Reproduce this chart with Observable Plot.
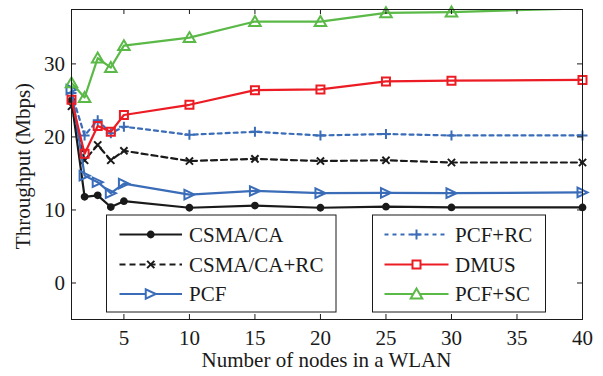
<!DOCTYPE html>
<html>
<head>
<meta charset="utf-8">
<script src="https://cdn.jsdelivr.net/npm/d3@7"></script>
<script src="https://cdn.jsdelivr.net/npm/@observablehq/plot@0.6"></script>
<style>
  html, body { margin: 0; padding: 0; background: #fff; }
  #chart svg { display: block; }
</style>
</head>
<body>
<div id="chart"></div>
<script>
// ---- data ----
const nodes = [1, 2, 3, 4, 5, 10, 15, 20, 25, 30, 40];
const csma     = [25.0, 11.8, 12.0, 10.4, 11.2, 10.3, 10.6, 10.3, 10.45, 10.35, 10.35];
const csmaRc   = [24.2, 16.8, 18.9, 16.8, 18.1, 16.7, 17.0, 16.7, 16.8, 16.5, 16.5];
const pcf      = [26.5, 14.7, 13.8, 12.3, 13.6, 12.1, 12.6, 12.3, 12.35, 12.3, 12.4];
const pcfRc    = [26.0, 20.2, 22.3, 20.5, 21.4, 20.3, 20.7, 20.2, 20.4, 20.2, 20.2];
const dmus     = [25.1, 17.7, 21.5, 20.7, 23.0, 24.4, 26.4, 26.5, 27.6, 27.7, 27.8];
const pcfSc    = [27.4, 25.4, 30.8, 29.5, 32.5, 33.6, 35.8, 35.8, 37.0, 37.1, 37.6];
const seriesNames = ["CSMA/CA", "CSMA/CA+RC", "PCF", "PCF+RC", "DMUS", "PCF+SC"];
const xTicks = [5, 10, 15, 20, 25, 30, 35, 40];
const yTicks = [0, 10, 20, 30];
const xDomain = [1, 40];
const yDomain = [-5, 37.45];
const xLabel = "Number of nodes in a WLAN";
const yLabel = "Throughput (Mbps)";

// ---- styles ----
const W = 603, H = 376;
const mL = 71, mR = 21, mT = 9, mB = 57;
const FONT = "Liberation Serif, Times New Roman, serif";
const FS = "21px";
const BLACK = "#1a1a1a", BLUE = "#3a6cb8", RED = "#ec1c24", GREEN = "#5ab947";

const symCircle = {draw(c, s) { const r = Math.sqrt(s / Math.PI); c.moveTo(r, 0); c.arc(0, 0, r, 0, 2 * Math.PI); }};
const symTimes  = {draw(c, s) { const r = Math.sqrt(s / Math.PI); c.moveTo(-r, -r); c.lineTo(r, r); c.moveTo(r, -r); c.lineTo(-r, r); }};
const symPlus   = {draw(c, s) { const r = Math.sqrt(s / Math.PI); c.moveTo(-r, 0); c.lineTo(r, 0); c.moveTo(0, -r); c.lineTo(0, r); }};
const symRight  = {draw(c, s) { const r = Math.sqrt(s / Math.PI); c.moveTo(r, 0); c.lineTo(-r, -r * 0.95); c.lineTo(-r, r * 0.95); c.closePath(); }};
const symSquare = {draw(c, s) { const r = Math.sqrt(s / Math.PI); c.rect(-r, -r, 2 * r, 2 * r); }};
const symUp     = {draw(c, s) { const r = Math.sqrt(s / Math.PI); c.moveTo(0, -r); c.lineTo(r * 1.05, r * 0.8); c.lineTo(-r * 1.05, r * 0.8); c.closePath(); }};

const styles = [
  {values: csma,   color: BLACK, dash: null,  sym: symCircle, r: 2.9, filled: true},
  {values: csmaRc, color: BLACK, dash: "6,4", sym: symTimes,  r: 3.6, filled: false},
  {values: pcf,    color: BLUE,  dash: null,  sym: symRight,  r: 5.0, filled: false},
  {values: pcfRc,  color: BLUE,  dash: "4,4", sym: symPlus,   r: 5.0, filled: false},
  {values: dmus,   color: RED,   dash: null,  sym: symSquare, r: 4.0, filled: false},
  {values: pcfSc,  color: GREEN, dash: null,  sym: symUp,     r: 5.5, filled: false}
];

const rows = seriesNames.flatMap((name, i) => nodes.map((x, j) => ({name, x, y: styles[i].values[j]})));

const marks = [];
seriesNames.forEach((name, i) => {
  const st = styles[i];
  const data = rows.filter(d => d.name === name);
  marks.push(Plot.line(data, {x: "x", y: "y", stroke: st.color, strokeWidth: 2.2, strokeDasharray: st.dash, clip: true}));
  marks.push(Plot.dot(data.filter(d => d.y <= yDomain[1]), {
    x: "x", y: "y", symbol: st.sym, r: st.r,
    stroke: st.color, strokeWidth: 2, fill: st.filled ? st.color : "none"
  }));
});

const fh = H - mT - mB, fw = W - mL - mR, TK = 5;
marks.push(
  Plot.ruleX(xTicks, {x: d => d, insetTop: fh - TK, stroke: BLACK, strokeWidth: 1}),
  Plot.ruleX(xTicks, {x: d => d, insetBottom: fh - TK, stroke: BLACK, strokeWidth: 1}),
  Plot.ruleY(yTicks, {y: d => d, insetRight: fw - TK, stroke: BLACK, strokeWidth: 1}),
  Plot.ruleY(yTicks, {y: d => d, insetLeft: fw - TK, stroke: BLACK, strokeWidth: 1}),
  Plot.axisX(xTicks, {tickSize: 0, tickPadding: 11, label: null}),
  Plot.axisY(yTicks, {tickSize: 0, tickPadding: 6.5, label: null}),
  Plot.frame({stroke: BLACK, strokeWidth: 1})
);

const chart = Plot.plot({
  width: W, height: H,
  marginLeft: mL, marginRight: mR, marginTop: mT, marginBottom: mB,
  x: {domain: xDomain, label: null},
  y: {domain: yDomain, label: null},
  style: {fontFamily: FONT, fontSize: FS, color: BLACK, background: "white", overflow: "visible"},
  marks
});
document.getElementById("chart").appendChild(chart);

// ---- axis titles ----
const svg = d3.select(chart);
svg.append("text")
  .attr("x", mL + fw / 2).attr("y", 367)
  .attr("text-anchor", "middle").attr("fill", BLACK)
  .style("font-family", FONT).style("font-size", FS)
  .text(xLabel);
svg.append("text")
  .attr("transform", "translate(30,166) rotate(-90)")
  .attr("text-anchor", "middle").attr("fill", BLACK)
  .style("font-family", FONT).style("font-size", FS)
  .text(yLabel);

// ---- legends ----
const boxes = [
  {x0: 106.5, x1: 336, items: [0, 1, 2], l0: 119.5, l1: 182, tx: 189},
  {x0: 372.5, x1: 545.5, items: [3, 4, 5], l0: 384.5, l1: 448.5, tx: 455}
];
const rowY = [234.5, 264.5, 294];
const lg = svg.append("g");
boxes.forEach(b => {
  lg.append("rect").attr("x", b.x0).attr("y", 215).attr("width", b.x1 - b.x0).attr("height", 97)
    .attr("fill", "white").attr("stroke", BLACK).attr("stroke-width", 1);
  b.items.forEach((k, i) => {
    const st = styles[k], y = rowY[i];
    lg.append("line").attr("x1", b.l0).attr("x2", b.l1).attr("y1", y).attr("y2", y)
      .attr("stroke", st.color).attr("stroke-width", 2.2).attr("stroke-dasharray", st.dash);
    const p = d3.path();
    st.sym.draw(p, Math.PI * st.r * st.r);
    lg.append("path").attr("d", p.toString())
      .attr("transform", `translate(${(b.l0 + b.l1) / 2},${y})`)
      .attr("stroke", st.color).attr("stroke-width", 2)
      .attr("fill", st.filled ? st.color : "white");
    lg.append("text").attr("x", b.tx).attr("y", y).attr("dy", "0.34em")
      .attr("text-anchor", "start")
      .attr("fill", BLACK).style("font-family", FONT).style("font-size", FS)
      .text(seriesNames[k]);
  });
});
</script>
</body>
</html>
